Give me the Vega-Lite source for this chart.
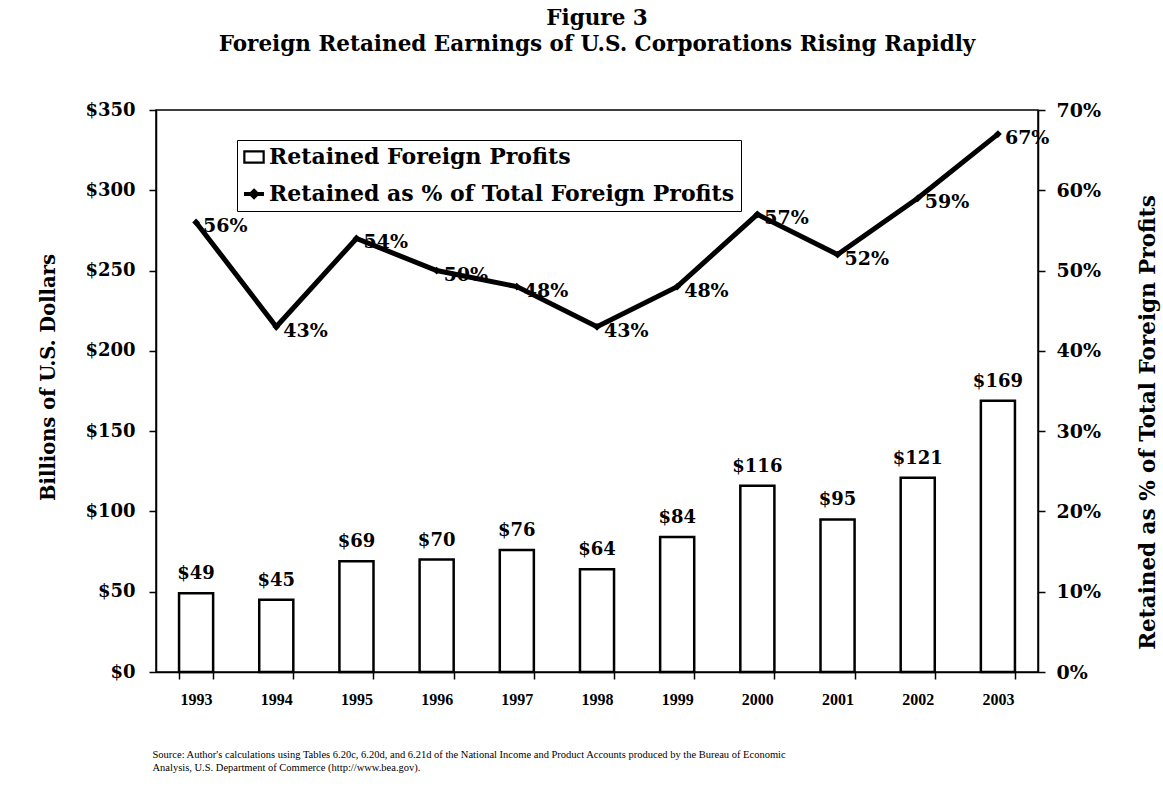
{
  "$schema": "https://vega.github.io/schema/vega-lite/v6.json",
  "width": 882,
  "height": 562,
  "autosize": {"type": "none"},
  "padding": {"left": 156, "top": 110, "right": 125, "bottom": 119},
  "background": "white",
  "config": {
    "view": {"stroke": "black", "strokeWidth": 1.5},
    "font": "DejaVu Serif",
    "axis": {"domainColor": "black", "tickColor": "black", "labelColor": "black", "titleColor": "black", "grid": false, "domainWidth": 1.5, "tickWidth": 1.5},
    "legend": {
      "title": null, "orient": "none", "legendX": 81, "legendY": 30, "direction": "vertical",
      "strokeColor": "black", "fillColor": "white", "padding": 6,
      "labelFont": "DejaVu Serif", "labelFontWeight": "bold", "labelFontSize": 22, "labelColor": "black",
      "labelLimit": 700, "symbolSize": 400, "rowPadding": 15, "labelOffset": 4,
      "symbolType": {"expr": "datum.value === 'Retained Foreign Profits' ? 'M-1,-0.6H1V0.6H-1ZM-0.93,-0.53V0.53H0.93V-0.53Z' : 'M-1,0H1M0,-0.3L0.3,0L0,0.3L-0.3,0Z'"},
      "symbolStrokeColor": "black",
      "symbolStrokeWidth": {"expr": "datum.value === 'Retained Foreign Profits' ? 1.5 : 4"}
    }
  },
  "title": {
    "text": ["Figure 3", "Foreign Retained Earnings of U.S. Corporations Rising Rapidly"],
    "font": "DejaVu Serif", "fontSize": 21.5, "fontWeight": "bold", "lineHeight": 26,
    "anchor": "middle", "offset": 46, "color": "black"
  },
  "data": {
    "values": [
      {"year": "1993", "profits": 49, "pct": 0.56},
      {"year": "1994", "profits": 45, "pct": 0.43},
      {"year": "1995", "profits": 69, "pct": 0.54},
      {"year": "1996", "profits": 70, "pct": 0.50},
      {"year": "1997", "profits": 76, "pct": 0.48},
      {"year": "1998", "profits": 64, "pct": 0.43},
      {"year": "1999", "profits": 84, "pct": 0.48},
      {"year": "2000", "profits": 116, "pct": 0.57},
      {"year": "2001", "profits": 95, "pct": 0.52},
      {"year": "2002", "profits": 121, "pct": 0.59},
      {"year": "2003", "profits": 169, "pct": 0.67}
    ]
  },
  "layer": [
    {
      "layer": [
        {
          "mark": {"type": "bar", "fill": "white", "stroke": "black", "strokeWidth": 2.5},
          "encoding": {
            "x": {
              "field": "year", "type": "ordinal",
              "scale": {"paddingInner": 0.575, "paddingOuter": 0.2875},
              "axis": {
                "title": ["Source: Author's calculations using Tables 6.20c, 6.20d, and 6.21d of the National Income and Product Accounts produced by the Bureau of Economic", "Analysis, U.S. Department of Commerce (http://www.bea.gov)."],
                "titleFont": "Liberation Serif", "titleFontSize": 10.5, "titleFontWeight": "normal",
                "titleAnchor": "start", "titleAlign": "left", "titleX": -4, "titleY": 85,
                "titleBaseline": "alphabetic", "titleLineHeight": 13,
                "labelFont": "Liberation Serif", "labelFontWeight": "bold", "labelFontSize": 16,
                "labelAngle": 0, "labelPadding": 12, "tickBand": "extent", "tickSize": 7
              }
            },
            "y": {
              "field": "profits", "type": "quantitative",
              "scale": {"domain": [0, 350]},
              "axis": {
                "title": "Billions of U.S. Dollars",
                "titleFont": "DejaVu Serif", "titleFontSize": 19.5, "titleFontWeight": "bold",
                "titleAngle": -90, "titleX": -108, "titleY": 267, "titleAlign": "center", "titleBaseline": "middle",
                "values": [0, 50, 100, 150, 200, 250, 300, 350], "format": "$.0f",
                "labelFont": "DejaVu Serif", "labelFontWeight": "bold", "labelFontSize": 18,
                "tickSize": 7, "labelPadding": 14
              }
            },
            "color": {
              "datum": "Retained Foreign Profits", "type": "nominal",
              "scale": {"domain": ["Retained Foreign Profits", "Retained as % of Total Foreign Profits"], "range": ["black", "black"]}
            }
          }
        },
        {
          "mark": {"type": "text", "font": "DejaVu Serif", "fontWeight": "bold", "fontSize": 18, "baseline": "alphabetic", "dy": -14, "color": "black"},
          "encoding": {
            "x": {"field": "year", "type": "ordinal"},
            "y": {"field": "profits", "type": "quantitative"},
            "text": {"field": "profits", "type": "quantitative", "format": "$.0f"}
          }
        }
      ]
    },
    {
      "layer": [
        {
          "mark": {"type": "line", "strokeWidth": 5, "strokeJoin": "miter", "point": {"filled": true, "shape": "diamond", "size": 60}},
          "encoding": {
            "x": {"field": "year", "type": "ordinal"},
            "y": {
              "field": "pct", "type": "quantitative",
              "scale": {"domain": [0, 0.7]},
              "axis": {
                "orient": "right",
                "title": "Retained as % of Total Foreign Profits",
                "titleFont": "DejaVu Serif", "titleFontSize": 21.5, "titleFontWeight": "bold",
                "titleAngle": 270, "titleX": 110, "titleY": 312, "titleAlign": "center", "titleBaseline": "middle",
                "values": [0, 0.1, 0.2, 0.3, 0.4, 0.5, 0.6, 0.7], "format": ".0%",
                "labelFont": "DejaVu Serif", "labelFontWeight": "bold", "labelFontSize": 19,
                "tickSize": 7, "labelPadding": 11
              }
            },
            "color": {"datum": "Retained as % of Total Foreign Profits", "type": "nominal"}
          }
        },
        {
          "mark": {"type": "text", "font": "DejaVu Serif", "fontWeight": "bold", "fontSize": 19, "align": "left", "baseline": "middle", "dx": 7, "dy": 4, "color": "black"},
          "encoding": {
            "x": {"field": "year", "type": "ordinal"},
            "y": {"field": "pct", "type": "quantitative"},
            "text": {"field": "pct", "type": "quantitative", "format": ".0%"}
          }
        }
      ]
    }
  ],
  "resolve": {"scale": {"y": "independent"}}
}
